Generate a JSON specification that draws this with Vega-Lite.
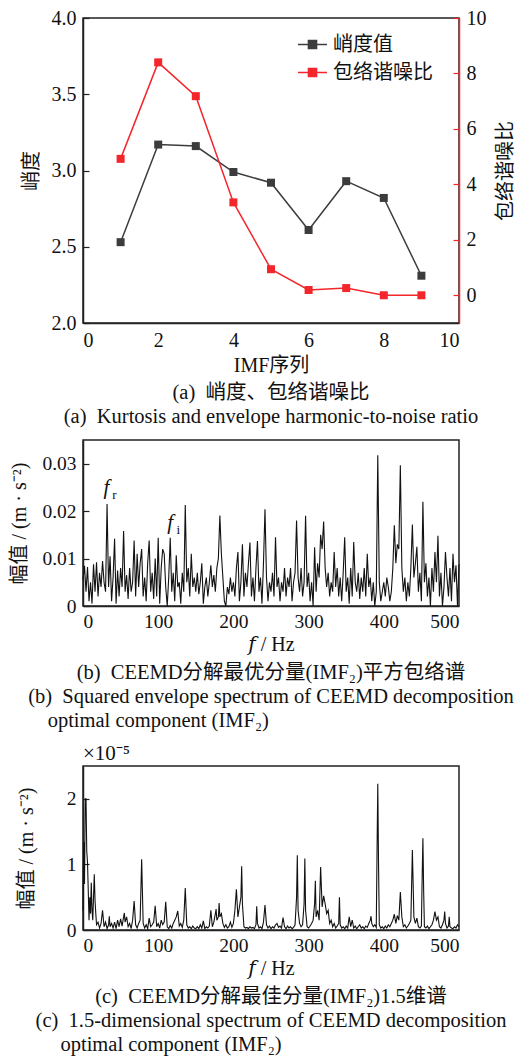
{
  "$schema": "https://vega.github.io/schema/vega-lite/v6.json",
  "background": "white",
  "padding": {"top": 7, "left": 9, "right": 3, "bottom": 3},
  "spacing": 10,
  "config": {
    "font": "Liberation Serif, Noto Sans CJK SC, serif",
    "view": {"stroke": "#222", "strokeWidth": 1.5},
    "axis": {
      "grid": false, "domainColor": "#222", "domainWidth": 1.5, "tickColor": "#222", "tickWidth": 1.2,
      "labelFont": "Liberation Serif, Noto Sans CJK SC, serif", "titleFont": "Liberation Serif, Noto Sans CJK SC, serif",
      "labelFontSize": 19.5, "titleFontSize": 20, "titleFontWeight": "normal", "labelColor": "#111", "titleColor": "#111"
    },
    "text": {"font": "Liberation Serif, Noto Sans CJK SC, serif"},
    "title": {"font": "Liberation Serif, Noto Sans CJK SC, serif", "fontSize": 20.5, "fontWeight": "normal", "color": "#111", "lineHeight": 24, "orient": "bottom", "anchor": "middle", "offset": 8}
  },
  "datasets": {
    "a": [
      {"imf": 1, "k": 2.53, "r": 4.92}, {"imf": 2, "k": 3.17, "r": 8.40}, {"imf": 3, "k": 3.16, "r": 7.18},
      {"imf": 4, "k": 2.99, "r": 3.35}, {"imf": 5, "k": 2.92, "r": 0.94}, {"imf": 6, "k": 2.61, "r": 0.19},
      {"imf": 7, "k": 2.93, "r": 0.26}, {"imf": 8, "k": 2.82, "r": 0.0}, {"imf": 9, "k": 2.31, "r": 0.0}
    ],
    "sb": [
      {"f":0,"a":0.0055},{"f":2,"a":0.0085},{"f":4,"a":0.003},{"f":6,"a":0.0082},{"f":8,"a":0.001},{"f":10,"a":0.005},{"f":12,"a":0.0005},{"f":14,"a":0.0088},{"f":16,"a":0.003},{"f":18,"a":0.0092},
      {"f":20,"a":0.002},{"f":22,"a":0.007},{"f":24,"a":0.004},{"f":26,"a":0.0095},{"f":28,"a":0.005},{"f":30,"a":0.003},{"f":32,"a":0.0215},{"f":34,"a":0.004},{"f":36,"a":0.0105},{"f":38,"a":0.001},
      {"f":40,"a":0.006},{"f":42,"a":0.0142},{"f":44,"a":0.0005},{"f":46,"a":0.0075},{"f":48,"a":0.002},{"f":50,"a":0.008},{"f":52,"a":0.004},{"f":54,"a":0.0158},{"f":56,"a":0.003},{"f":58,"a":0.0065},
      {"f":60,"a":0.0015},{"f":62,"a":0.008},{"f":64,"a":0.003},{"f":66,"a":0.005},{"f":68,"a":0.0138},{"f":70,"a":0.002},{"f":72,"a":0.011},{"f":74,"a":0.004},{"f":76,"a":0.009},{"f":78,"a":0.012},
      {"f":80,"a":0.002},{"f":82,"a":0.006},{"f":84,"a":0.001},{"f":86,"a":0.009},{"f":88,"a":0.0138},{"f":90,"a":0.003},{"f":92,"a":0.007},{"f":94,"a":0.0015},{"f":96,"a":0.01},{"f":98,"a":0.002},
      {"f":100,"a":0.0144},{"f":102,"a":0.0005},{"f":104,"a":0.008},{"f":106,"a":0.012},{"f":108,"a":0.011},{"f":110,"a":0.004},{"f":112,"a":0},{"f":114,"a":0.006},{"f":116,"a":0.0144},{"f":118,"a":0.003},
      {"f":120,"a":0.007},{"f":122,"a":0.001},{"f":124,"a":0.0107},{"f":126,"a":0.004},{"f":128,"a":0.005},{"f":130,"a":0.0005},{"f":132,"a":0.007},{"f":134,"a":0.003},{"f":136,"a":0.0213},{"f":138,"a":0.005},
      {"f":140,"a":0.008},{"f":142,"a":0.002},{"f":144,"a":0.011},{"f":146,"a":0.004},{"f":148,"a":0.006},{"f":150,"a":0.003},{"f":152,"a":0.007},{"f":154,"a":0.0025},{"f":156,"a":0.005},{"f":158,"a":0.009},
      {"f":160,"a":0.0005},{"f":162,"a":0.004},{"f":164,"a":0.006},{"f":166,"a":0.002},{"f":168,"a":0.005},{"f":170,"a":0.0086},{"f":172,"a":0.004},{"f":174,"a":0.0065},{"f":176,"a":0.003},{"f":178,"a":0.008},
      {"f":180,"a":0.01},{"f":182,"a":0.0191},{"f":184,"a":0.011},{"f":186,"a":0.006},{"f":188,"a":0.001},{"f":190,"a":0},{"f":192,"a":0.004},{"f":194,"a":0.0025},{"f":196,"a":0.006},{"f":198,"a":0.003},
      {"f":200,"a":0.005},{"f":202,"a":0.002},{"f":204,"a":0.008},{"f":206,"a":0.0114},{"f":208,"a":0.001},{"f":210,"a":0.005},{"f":212,"a":0.013},{"f":214,"a":0.002},{"f":216,"a":0.007},{"f":218,"a":0.004},
      {"f":220,"a":0.009},{"f":222,"a":0.0134},{"f":224,"a":0.002},{"f":226,"a":0.006},{"f":228,"a":0.001},{"f":230,"a":0.008},{"f":232,"a":0.0137},{"f":234,"a":0.003},{"f":236,"a":0.006},{"f":238,"a":0.0005},
      {"f":240,"a":0.009},{"f":242,"a":0.0204},{"f":244,"a":0.006},{"f":246,"a":0.001},{"f":248,"a":0.005},{"f":250,"a":0.003},{"f":252,"a":0.007},{"f":254,"a":0.002},{"f":256,"a":0.0145},{"f":258,"a":0.004},
      {"f":260,"a":0.006},{"f":262,"a":0.001},{"f":264,"a":0.005},{"f":266,"a":0.003},{"f":268,"a":0.008},{"f":270,"a":0.002},{"f":272,"a":0.006},{"f":274,"a":0.004},{"f":276,"a":0.008},{"f":278,"a":0.001},
      {"f":280,"a":0.005},{"f":282,"a":0.007},{"f":284,"a":0.018},{"f":286,"a":0.006},{"f":288,"a":0.003},{"f":290,"a":0.008},{"f":292,"a":0.002},{"f":294,"a":0.005},{"f":296,"a":0.019},{"f":298,"a":0.004},
      {"f":300,"a":0.007},{"f":302,"a":0.001},{"f":304,"a":0.005},{"f":306,"a":0},{"f":308,"a":0.0124},{"f":310,"a":0.003},{"f":312,"a":0.009},{"f":314,"a":0.006},{"f":316,"a":0.015},{"f":318,"a":0.012},
      {"f":320,"a":0.0178},{"f":322,"a":0.008},{"f":324,"a":0.004},{"f":326,"a":0.007},{"f":328,"a":0.002},{"f":330,"a":0.005},{"f":332,"a":0.003},{"f":334,"a":0.0114},{"f":336,"a":0.004},{"f":338,"a":0.008},
      {"f":340,"a":0.002},{"f":342,"a":0.006},{"f":344,"a":0.001},{"f":346,"a":0.007},{"f":348,"a":0.0145},{"f":350,"a":0.003},{"f":352,"a":0.006},{"f":354,"a":0.0005},{"f":356,"a":0.008},{"f":358,"a":0.002},
      {"f":360,"a":0.0135},{"f":362,"a":0.005},{"f":364,"a":0.003},{"f":366,"a":0.007},{"f":368,"a":0.0015},{"f":370,"a":0.006},{"f":372,"a":0.003},{"f":374,"a":0.008},{"f":376,"a":0.002},{"f":378,"a":0.011},
      {"f":380,"a":0.004},{"f":382,"a":0.006},{"f":384,"a":0.001},{"f":386,"a":0.005},{"f":388,"a":0},{"f":390,"a":0.003},{"f":392,"a":0.0318},{"f":394,"a":0.005},{"f":396,"a":0.001},{"f":398,"a":0.003},
      {"f":400,"a":0.005},{"f":402,"a":0.002},{"f":404,"a":0.006},{"f":406,"a":0.004},{"f":408,"a":0.001},{"f":410,"a":0.003},{"f":412,"a":0.008},{"f":414,"a":0.017},{"f":416,"a":0.009},{"f":418,"a":0.013},
      {"f":420,"a":0.012},{"f":422,"a":0.0297},{"f":424,"a":0.008},{"f":426,"a":0.003},{"f":428,"a":0.006},{"f":430,"a":0.001},{"f":432,"a":0.005},{"f":434,"a":0.002},{"f":436,"a":0.008},{"f":438,"a":0.0172},
      {"f":440,"a":0.006},{"f":442,"a":0.009},{"f":444,"a":0.0125},{"f":446,"a":0.003},{"f":448,"a":0.007},{"f":450,"a":0.001},{"f":452,"a":0.022},{"f":454,"a":0.005},{"f":456,"a":0.009},{"f":458,"a":0.002},
      {"f":460,"a":0.006},{"f":462,"a":0},{"f":464,"a":0.008},{"f":466,"a":0.003},{"f":468,"a":0.0114},{"f":470,"a":0.005},{"f":472,"a":0.0148},{"f":474,"a":0.002},{"f":476,"a":0.007},{"f":478,"a":0},
      {"f":480,"a":0.004},{"f":482,"a":0.0114},{"f":484,"a":0.006},{"f":486,"a":0.002},{"f":488,"a":0.008},{"f":490,"a":0.001},{"f":492,"a":0.011},{"f":494,"a":0.005},{"f":496,"a":0.0086},{"f":498,"a":0},
      {"f":500,"a":0.0088}
    ],
    "sc": [
      {"f":0,"a":0.3},{"f":1,"a":1.34},{"f":2,"a":0.7},{"f":3,"a":2.0},{"f":4,"a":2.0},{"f":5,"a":1.2},{"f":6,"a":1.03},{"f":7,"a":0.6},{"f":8,"a":0.15},{"f":9,"a":0.5},
      {"f":10,"a":0.25},{"f":11,"a":0.72},{"f":12,"a":0.3},{"f":13,"a":0.15},{"f":14,"a":0.5},{"f":15,"a":0.85},{"f":16,"a":0.45},{"f":17,"a":0.25},{"f":18,"a":0.08},{"f":20,"a":0.12},
      {"f":22,"a":0.03},{"f":24,"a":0.1},{"f":26,"a":0.3},{"f":28,"a":0.05},{"f":30,"a":0.12},{"f":32,"a":0.02},{"f":34,"a":0.08},{"f":35,"a":0.21},{"f":36,"a":0.05},{"f":38,"a":0.1},
      {"f":40,"a":0.03},{"f":42,"a":0.12},{"f":44,"a":0.02},{"f":46,"a":0.15},{"f":48,"a":0.05},{"f":50,"a":0.17},{"f":52,"a":0.06},{"f":54,"a":0.2},{"f":55,"a":0.26},{"f":56,"a":0.12},
      {"f":58,"a":0.2},{"f":60,"a":0.05},{"f":62,"a":0.1},{"f":64,"a":0.02},{"f":66,"a":0.15},{"f":68,"a":0.44},{"f":70,"a":0.08},{"f":72,"a":0.03},{"f":74,"a":0.1},{"f":76,"a":0.15},
      {"f":78,"a":1.08},{"f":80,"a":0.1},{"f":82,"a":0.03},{"f":84,"a":0.08},{"f":86,"a":0.02},{"f":88,"a":0.18},{"f":90,"a":0.05},{"f":92,"a":0.08},{"f":94,"a":0.12},{"f":96,"a":0.37},
      {"f":98,"a":0.05},{"f":100,"a":0.1},{"f":102,"a":0.03},{"f":104,"a":0.15},{"f":106,"a":0.08},{"f":108,"a":0.12},{"f":110,"a":0.43},{"f":112,"a":0.05},{"f":114,"a":0.02},{"f":116,"a":0.07},
      {"f":118,"a":0.03},{"f":120,"a":0.1},{"f":122,"a":0.15},{"f":124,"a":0.2},{"f":126,"a":0.29},{"f":128,"a":0.06},{"f":130,"a":0.1},{"f":132,"a":0.04},{"f":134,"a":0.15},{"f":136,"a":0.64},
      {"f":138,"a":0.08},{"f":140,"a":0.03},{"f":142,"a":0.05},{"f":144,"a":0.02},{"f":146,"a":0.06},{"f":148,"a":0.03},{"f":150,"a":0.02},{"f":152,"a":0.05},{"f":154,"a":0.02},{"f":156,"a":0.08},
      {"f":158,"a":0.03},{"f":160,"a":0.14},{"f":162,"a":0.02},{"f":164,"a":0.05},{"f":166,"a":0.03},{"f":168,"a":0.06},{"f":170,"a":0.3},{"f":172,"a":0.05},{"f":174,"a":0.12},{"f":176,"a":0.25},
      {"f":177,"a":0.32},{"f":178,"a":0.15},{"f":180,"a":0.2},{"f":181,"a":0.41},{"f":182,"a":0.2},{"f":184,"a":0.25},{"f":186,"a":0.1},{"f":188,"a":0.04},{"f":190,"a":0.08},{"f":192,"a":0.03},
      {"f":194,"a":0.05},{"f":196,"a":0.12},{"f":198,"a":0.04},{"f":200,"a":0.1},{"f":202,"a":0.3},{"f":204,"a":0.62},{"f":206,"a":0.2},{"f":208,"a":0.35},{"f":210,"a":0.5},{"f":211,"a":0.97},
      {"f":212,"a":0.4},{"f":214,"a":0.05},{"f":216,"a":0.03},{"f":218,"a":0.04},{"f":220,"a":0.02},{"f":222,"a":0.05},{"f":224,"a":0.03},{"f":226,"a":0.04},{"f":228,"a":0.02},{"f":230,"a":0.08},
      {"f":231,"a":0.36},{"f":232,"a":0.1},{"f":234,"a":0.03},{"f":236,"a":0.05},{"f":238,"a":0.02},{"f":240,"a":0.12},{"f":242,"a":0.38},{"f":244,"a":0.08},{"f":246,"a":0.03},{"f":248,"a":0.06},
      {"f":250,"a":0.02},{"f":252,"a":0.05},{"f":254,"a":0.03},{"f":256,"a":0.08},{"f":258,"a":0.1},{"f":260,"a":0.04},{"f":262,"a":0.06},{"f":264,"a":0.03},{"f":266,"a":0.19},{"f":268,"a":0.05},
      {"f":270,"a":0.02},{"f":272,"a":0.06},{"f":274,"a":0.03},{"f":276,"a":0.05},{"f":278,"a":0.02},{"f":280,"a":0.04},{"f":282,"a":0.08},{"f":284,"a":0.5},{"f":285,"a":1.14},{"f":286,"a":0.3},
      {"f":288,"a":0.1},{"f":290,"a":0.05},{"f":292,"a":0.08},{"f":294,"a":0.4},{"f":295,"a":1.09},{"f":296,"a":0.3},{"f":298,"a":0.05},{"f":300,"a":0.03},{"f":302,"a":0.06},{"f":304,"a":0.1},
      {"f":306,"a":0.15},{"f":308,"a":0.4},{"f":309,"a":0.75},{"f":310,"a":0.2},{"f":312,"a":0.3},{"f":314,"a":0.15},{"f":316,"a":0.96},{"f":318,"a":0.35},{"f":320,"a":0.52},{"f":322,"a":0.4},
      {"f":324,"a":0.25},{"f":326,"a":0.3},{"f":328,"a":0.1},{"f":330,"a":0.15},{"f":332,"a":0.05},{"f":334,"a":0.1},{"f":336,"a":0.03},{"f":338,"a":0.06},{"f":340,"a":0.1},{"f":341,"a":0.5},
      {"f":342,"a":0.08},{"f":344,"a":0.03},{"f":346,"a":0.05},{"f":348,"a":0.02},{"f":350,"a":0.06},{"f":352,"a":0.03},{"f":354,"a":0.2},{"f":356,"a":0.05},{"f":358,"a":0.15},{"f":360,"a":0.03},
      {"f":362,"a":0.06},{"f":364,"a":0.02},{"f":366,"a":0.05},{"f":368,"a":0.08},{"f":370,"a":0.03},{"f":372,"a":0.05},{"f":374,"a":0.02},{"f":376,"a":0.06},{"f":378,"a":0.04},{"f":380,"a":0.1},
      {"f":382,"a":0.15},{"f":383,"a":0.21},{"f":384,"a":0.1},{"f":386,"a":0.05},{"f":388,"a":0.08},{"f":390,"a":0.04},{"f":391,"a":1.2},{"f":392,"a":2.23},{"f":393,"a":1.0},{"f":394,"a":0.08},
      {"f":396,"a":0.03},{"f":398,"a":0.05},{"f":400,"a":0.02},{"f":402,"a":0.06},{"f":404,"a":0.03},{"f":406,"a":0.08},{"f":408,"a":0.05},{"f":410,"a":0.1},{"f":412,"a":0.15},{"f":414,"a":0.24},
      {"f":416,"a":0.1},{"f":418,"a":0.22},{"f":420,"a":0.15},{"f":422,"a":0.58},{"f":424,"a":0.2},{"f":426,"a":0.05},{"f":428,"a":0.08},{"f":430,"a":0.03},{"f":432,"a":0.06},{"f":434,"a":0.1},
      {"f":436,"a":0.15},{"f":438,"a":1.22},{"f":440,"a":0.2},{"f":442,"a":0.1},{"f":444,"a":0.18},{"f":446,"a":0.05},{"f":448,"a":0.03},{"f":450,"a":0.06},{"f":451,"a":0.8},{"f":452,"a":1.4},
      {"f":453,"a":0.6},{"f":454,"a":0.05},{"f":456,"a":0.03},{"f":458,"a":0.06},{"f":460,"a":0.02},{"f":462,"a":0.05},{"f":464,"a":0.08},{"f":466,"a":0.15},{"f":468,"a":0.28},{"f":470,"a":0.15},
      {"f":472,"a":0.2},{"f":474,"a":0.05},{"f":476,"a":0.03},{"f":478,"a":0.08},{"f":480,"a":0.15},{"f":481,"a":0.28},{"f":482,"a":0.1},{"f":484,"a":0.03},{"f":486,"a":0.06},{"f":487,"a":0.2},
      {"f":488,"a":0.05},{"f":490,"a":0.03},{"f":492,"a":0.02},{"f":494,"a":0.05},{"f":496,"a":0.03},{"f":498,"a":0.08},{"f":500,"a":0.05}
    ],
    "ann": [{"f": 31, "a": 0.0248, "m": "f", "s": "r"}, {"f": 116, "a": 0.0176, "m": "f", "s": "i"}],
    "exp": [{"f": 0, "a": 2.5, "t": "×10⁻⁵"}]
  },
  "vconcat": [
    {
      "width": 376, "height": 305,
      "title": {"text": ["(a)\u00a0\u00a0峭度、包络谐噪比", "(a)\u00a0\u00a0Kurtosis and envelope harmonic-to-noise ratio"], "offset": 8},
      "data": {"name": "a"},
      "layer": [
        {
          "mark": {"type": "line", "strokeWidth": 1.5, "point": {"shape": "square", "filled": true, "size": 64}},
          "encoding": {
            "x": {"field": "imf", "type": "quantitative", "scale": {"domain": [0, 10], "nice": false},
                  "axis": {"values": [0, 2, 4, 6, 8, 10], "title": "IMF序列", "ticks": false, "labelPadding": 7, "titlePadding": 5, "labelFontSize": 20}},
            "y": {"field": "k", "type": "quantitative", "scale": {"domain": [2, 4], "nice": false},
                  "axis": {"values": [2, 2.5, 3, 3.5, 4], "format": ".1f", "title": "峭度", "tickSize": -6, "labelPadding": 13, "titlePadding": 10, "labelFontSize": 20}},
            "color": {"datum": "峭度值", "type": "nominal",
                      "scale": {"domain": ["峭度值", "包络谐噪比"], "range": ["#3c3c3c", "#f2262b"]},
                      "legend": {"orient": "none", "legendX": 214, "legendY": 11, "title": null,
                                 "symbolType": "M-1,0L1,0M-0.28,-0.28L0.28,-0.28L0.28,0.28L-0.28,0.28Z",
                                 "symbolSize": 841, "symbolStrokeWidth": 1.5, "labelFontSize": 20, "labelOffset": 5, "rowPadding": 2,
                                 "labelFont": "Liberation Serif, Noto Sans CJK SC, serif", "labelColor": "#111",
                                 "encode": {"symbols": {"update": {"fill": {"scale": "color", "field": "value"}, "fillOpacity": {"value": 1}}}}}}
          }
        },
        {
          "mark": {"type": "line", "strokeWidth": 1.5, "point": {"shape": "square", "filled": true, "size": 64}},
          "encoding": {
            "x": {"field": "imf", "type": "quantitative"},
            "y": {"field": "r", "type": "quantitative", "scale": {"domain": [-1, 10], "nice": false},
                  "axis": {"orient": "right", "values": [0, 2, 4, 6, 8, 10], "title": "包络谐噪比", "titleAngle": 270, "titleBaseline": "top",
                           "domainColor": "#f2262b", "tickColor": "#f2262b", "tickSize": -6, "labelPadding": 13, "titlePadding": 9, "labelFontSize": 20}},
            "color": {"datum": "包络谐噪比", "type": "nominal"}
          }
        }
      ],
      "resolve": {"scale": {"y": "independent"}}
    },
    {
      "width": 376, "height": 166,
      "title": {"text": ["(b)\u00a0\u00a0CEEMD分解最优分量(IMF₂)平方包络谱", "(b)\u00a0\u00a0Squared envelope spectrum of CEEMD decomposition", "optimal component (IMF₂)\u2003\u2003\u2003\u2003\u2003\u2003\u2003\u2003\u2003\u2003\u2003\u200b"], "offset": 8},
      "layer": [
        {
          "data": {"name": "sb"},
          "mark": {"type": "line", "color": "#111", "strokeWidth": 1.1},
          "encoding": {
            "x": {"field": "f", "type": "quantitative", "scale": {"domain": [0, 500], "nice": false},
                  "axis": {"values": [0, 100, 200, 300, 400, 500], "title": "𝑓 / Hz", "ticks": false, "labelPadding": 6, "titlePadding": 4,
                           "titleFont": "Liberation Serif, DejaVu Serif, serif"}},
            "y": {"field": "a", "type": "quantitative", "scale": {"domain": [0, 0.035], "nice": false},
                  "axis": {"values": [0, 0.01, 0.02, 0.03], "labelExpr": "datum.value === 0 ? '0' : format(datum.value, '.2f')",
                           "title": "幅值 / (m · s⁻²)", "tickSize": -6, "labelPadding": 13, "titlePadding": 12}}
          }
        },
        {
          "data": {"name": "ann"},
          "mark": {"type": "text", "fontStyle": "italic", "fontSize": 21, "color": "#111"},
          "encoding": {"x": {"field": "f", "type": "quantitative"}, "y": {"field": "a", "type": "quantitative"}, "text": {"field": "m"}}
        },
        {
          "data": {"name": "ann"},
          "mark": {"type": "text", "fontSize": 13, "dx": 8, "dy": 7, "color": "#111"},
          "encoding": {"x": {"field": "f", "type": "quantitative"}, "y": {"field": "a", "type": "quantitative"}, "text": {"field": "s"}}
        }
      ]
    },
    {
      "width": 376, "height": 164,
      "title": {"text": ["(c)\u00a0\u00a0CEEMD分解最佳分量(IMF₂)1.5维谱", "(c)\u00a0\u00a01.5-dimensional spectrum of CEEMD decomposition", "optimal component (IMF₂)\u2003\u2003\u2003\u2003\u2003\u2003\u2003\u2003\u2003\u00a0\u00a0\u00a0\u200b"], "offset": 8},
      "layer": [
        {
          "data": {"name": "sc"},
          "mark": {"type": "line", "color": "#111", "strokeWidth": 1.1},
          "encoding": {
            "x": {"field": "f", "type": "quantitative", "scale": {"domain": [0, 500], "nice": false},
                  "axis": {"values": [0, 100, 200, 300, 400, 500], "title": "𝑓 / Hz", "ticks": false, "labelPadding": 6, "titlePadding": 4,
                           "titleFont": "Liberation Serif, DejaVu Serif, serif"}},
            "y": {"field": "a", "type": "quantitative", "scale": {"domain": [0, 2.5], "nice": false},
                  "axis": {"values": [0, 1, 2], "format": "d", "title": "幅值 / (m · s⁻²)", "tickSize": -6, "labelPadding": 13, "titlePadding": 30}}
          }
        },
        {
          "data": {"name": "exp"},
          "mark": {"type": "text", "align": "left", "baseline": "bottom", "dy": -2, "fontSize": 21, "color": "#111"},
          "encoding": {"x": {"field": "f", "type": "quantitative"}, "y": {"field": "a", "type": "quantitative"}, "text": {"field": "t"}}
        }
      ]
    }
  ]
}
